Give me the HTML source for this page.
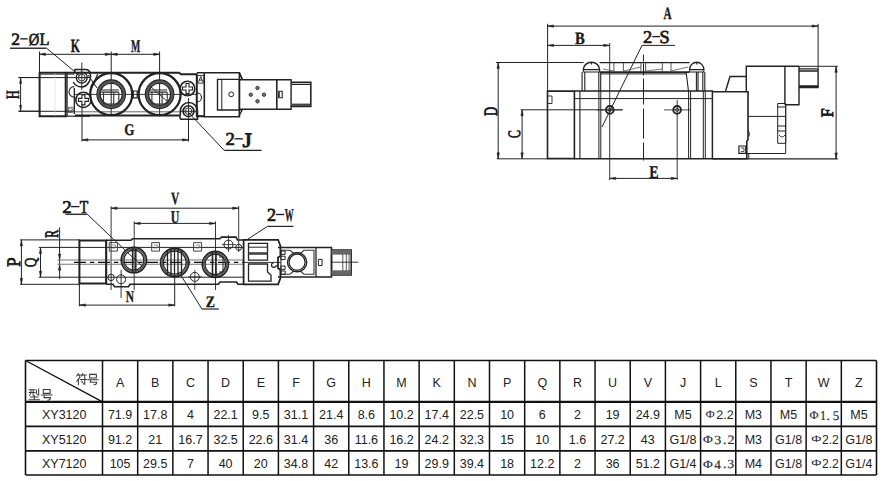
<!DOCTYPE html>
<html><head><meta charset="utf-8"><style>
html,body{margin:0;padding:0;background:#fff;width:882px;height:481px;overflow:hidden}
svg{display:block}
</style></head><body>
<svg width="882" height="481" viewBox="0 0 882 481">
<rect width="882" height="481" fill="#fff"/>

<g stroke="#111" fill="none">
<line x1="25.5" y1="360.5" x2="876.5" y2="360.5" stroke-width="1.6"/>
<line x1="25.5" y1="401.8" x2="876.5" y2="401.8" stroke-width="2.2"/>
<line x1="25.5" y1="426.3" x2="876.5" y2="426.3" stroke-width="1.8"/>
<line x1="25.5" y1="450.9" x2="876.5" y2="450.9" stroke-width="1.8"/>
<line x1="25.5" y1="475.0" x2="876.5" y2="475.0" stroke-width="1.6"/>
<line x1="25.5" y1="360.5" x2="25.5" y2="475.0" stroke-width="1.6"/>
<line x1="876.5" y1="360.5" x2="876.5" y2="475.0" stroke-width="1.6"/>
<line x1="102.5" y1="360.5" x2="102.5" y2="475.0" stroke-width="1.5"/>
<line x1="137.68" y1="360.5" x2="137.68" y2="475.0" stroke-width="1.5"/>
<line x1="172.86" y1="360.5" x2="172.86" y2="475.0" stroke-width="1.5"/>
<line x1="208.05" y1="360.5" x2="208.05" y2="475.0" stroke-width="1.5"/>
<line x1="243.23" y1="360.5" x2="243.23" y2="475.0" stroke-width="1.5"/>
<line x1="278.41" y1="360.5" x2="278.41" y2="475.0" stroke-width="1.5"/>
<line x1="313.59" y1="360.5" x2="313.59" y2="475.0" stroke-width="1.5"/>
<line x1="348.77" y1="360.5" x2="348.77" y2="475.0" stroke-width="1.5"/>
<line x1="383.95" y1="360.5" x2="383.95" y2="475.0" stroke-width="1.5"/>
<line x1="419.14" y1="360.5" x2="419.14" y2="475.0" stroke-width="1.5"/>
<line x1="454.32" y1="360.5" x2="454.32" y2="475.0" stroke-width="1.5"/>
<line x1="489.5" y1="360.5" x2="489.5" y2="475.0" stroke-width="1.5"/>
<line x1="524.68" y1="360.5" x2="524.68" y2="475.0" stroke-width="1.5"/>
<line x1="559.86" y1="360.5" x2="559.86" y2="475.0" stroke-width="1.5"/>
<line x1="595.05" y1="360.5" x2="595.05" y2="475.0" stroke-width="1.5"/>
<line x1="630.23" y1="360.5" x2="630.23" y2="475.0" stroke-width="1.5"/>
<line x1="665.41" y1="360.5" x2="665.41" y2="475.0" stroke-width="1.5"/>
<line x1="700.59" y1="360.5" x2="700.59" y2="475.0" stroke-width="1.5"/>
<line x1="735.77" y1="360.5" x2="735.77" y2="475.0" stroke-width="1.5"/>
<line x1="770.95" y1="360.5" x2="770.95" y2="475.0" stroke-width="1.5"/>
<line x1="806.14" y1="360.5" x2="806.14" y2="475.0" stroke-width="1.5"/>
<line x1="841.32" y1="360.5" x2="841.32" y2="475.0" stroke-width="1.5"/>
<line x1="25.5" y1="360.5" x2="102.5" y2="401.8" stroke-width="1.4"/>
</g>
<g font-family="Liberation Sans, sans-serif" font-size="12.5" fill="#222" text-anchor="middle">
<text x="120.09" y="386.5">A</text>
<text x="155.27" y="386.5">B</text>
<text x="190.45" y="386.5">C</text>
<text x="225.64" y="386.5">D</text>
<text x="260.82" y="386.5">E</text>
<text x="296" y="386.5">F</text>
<text x="331.18" y="386.5">G</text>
<text x="366.36" y="386.5">H</text>
<text x="401.55" y="386.5">M</text>
<text x="436.73" y="386.5">K</text>
<text x="471.91" y="386.5">N</text>
<text x="507.09" y="386.5">P</text>
<text x="542.27" y="386.5">Q</text>
<text x="577.45" y="386.5">R</text>
<text x="612.64" y="386.5">U</text>
<text x="647.82" y="386.5">V</text>
<text x="683" y="386.5">J</text>
<text x="718.18" y="386.5">L</text>
<text x="753.36" y="386.5">S</text>
<text x="788.55" y="386.5">T</text>
<text x="823.73" y="386.5">W</text>
<text x="858.91" y="386.5">Z</text>
<text x="64.2" y="419.2">XY3120</text>
<text x="120.09" y="419.2">71.9</text>
<text x="155.27" y="419.2">17.8</text>
<text x="190.45" y="419.2">4</text>
<text x="225.64" y="419.2">22.1</text>
<text x="260.82" y="419.2">9.5</text>
<text x="296" y="419.2">31.1</text>
<text x="331.18" y="419.2">21.4</text>
<text x="366.36" y="419.2">8.6</text>
<text x="401.55" y="419.2">10.2</text>
<text x="436.73" y="419.2">17.4</text>
<text x="471.91" y="419.2">22.5</text>
<text x="507.09" y="419.2">10</text>
<text x="542.27" y="419.2">6</text>
<text x="577.45" y="419.2">2</text>
<text x="612.64" y="419.2">19</text>
<text x="647.82" y="419.2">24.9</text>
<text x="683" y="419.2">M5</text>
<text x="753.36" y="419.2">M3</text>
<text x="788.55" y="419.2">M5</text>
<text x="858.91" y="419.2">M5</text>
<text x="64.2" y="443.8">XY5120</text>
<text x="120.09" y="443.8">91.2</text>
<text x="155.27" y="443.8">21</text>
<text x="190.45" y="443.8">16.7</text>
<text x="225.64" y="443.8">32.5</text>
<text x="260.82" y="443.8">22.6</text>
<text x="296" y="443.8">31.4</text>
<text x="331.18" y="443.8">36</text>
<text x="366.36" y="443.8">11.6</text>
<text x="401.55" y="443.8">16.2</text>
<text x="436.73" y="443.8">24.2</text>
<text x="471.91" y="443.8">32.3</text>
<text x="507.09" y="443.8">15</text>
<text x="542.27" y="443.8">10</text>
<text x="577.45" y="443.8">1.6</text>
<text x="612.64" y="443.8">27.2</text>
<text x="647.82" y="443.8">43</text>
<text x="683" y="443.8">G1/8</text>
<text x="753.36" y="443.8">M3</text>
<text x="788.55" y="443.8">G1/8</text>
<text x="858.91" y="443.8">G1/8</text>
<text x="64.2" y="468.4">XY7120</text>
<text x="120.09" y="468.4">105</text>
<text x="155.27" y="468.4">29.5</text>
<text x="190.45" y="468.4">7</text>
<text x="225.64" y="468.4">40</text>
<text x="260.82" y="468.4">20</text>
<text x="296" y="468.4">34.8</text>
<text x="331.18" y="468.4">42</text>
<text x="366.36" y="468.4">13.6</text>
<text x="401.55" y="468.4">19</text>
<text x="436.73" y="468.4">29.9</text>
<text x="471.91" y="468.4">39.4</text>
<text x="507.09" y="468.4">18</text>
<text x="542.27" y="468.4">12.2</text>
<text x="577.45" y="468.4">2</text>
<text x="612.64" y="468.4">36</text>
<text x="647.82" y="468.4">51.2</text>
<text x="683" y="468.4">G1/4</text>
<text x="753.36" y="468.4">M4</text>
<text x="788.55" y="468.4">G1/8</text>
<text x="858.91" y="468.4">G1/4</text>
</g>
<text x="0" y="0" transform="translate(702.89,443.30) scale(0.6712,0.5574)" font-family="Liberation Serif" font-weight="normal" font-size="20" fill="#2a2a2a" stroke="#2a2a2a" stroke-width="0.25" style="font-kerning:none" text-rendering="geometricPrecision">Φ</text>
<text x="0" y="0" transform="translate(714.13,443.88) scale(0.7020,0.6251)" font-family="Liberation Serif" font-weight="normal" font-size="20" fill="#2a2a2a" stroke="#2a2a2a" stroke-width="0.25" style="font-kerning:none" text-rendering="geometricPrecision">3</text>
<text x="0" y="0" transform="translate(723.11,443.81) scale(0.6770,0.6770)" font-family="Liberation Serif" font-weight="normal" font-size="20" fill="#2a2a2a" stroke="#2a2a2a" stroke-width="0.25" style="font-kerning:none" text-rendering="geometricPrecision">.</text>
<text x="0" y="0" transform="translate(727.38,444.00) scale(0.7109,0.6343)" font-family="Liberation Serif" font-weight="normal" font-size="20" fill="#2a2a2a" stroke="#2a2a2a" stroke-width="0.25" style="font-kerning:none" text-rendering="geometricPrecision">2</text>
<text x="0" y="0" transform="translate(702.89,467.90) scale(0.6712,0.5574)" font-family="Liberation Serif" font-weight="normal" font-size="20" fill="#2a2a2a" stroke="#2a2a2a" stroke-width="0.25" style="font-kerning:none" text-rendering="geometricPrecision">Φ</text>
<text x="0" y="0" transform="translate(714.34,468.60) scale(0.6669,0.6381)" font-family="Liberation Serif" font-weight="normal" font-size="20" fill="#2a2a2a" stroke="#2a2a2a" stroke-width="0.25" style="font-kerning:none" text-rendering="geometricPrecision">4</text>
<text x="0" y="0" transform="translate(723.11,468.41) scale(0.6770,0.6770)" font-family="Liberation Serif" font-weight="normal" font-size="20" fill="#2a2a2a" stroke="#2a2a2a" stroke-width="0.25" style="font-kerning:none" text-rendering="geometricPrecision">.</text>
<text x="0" y="0" transform="translate(727.34,468.48) scale(0.6899,0.6251)" font-family="Liberation Serif" font-weight="normal" font-size="20" fill="#2a2a2a" stroke="#2a2a2a" stroke-width="0.25" style="font-kerning:none" text-rendering="geometricPrecision">3</text>
<text x="0" y="0" transform="translate(809.53,418.50) scale(0.6190,0.5803)" font-family="Liberation Serif" font-weight="normal" font-size="20" fill="#2a2a2a" stroke="#2a2a2a" stroke-width="0.25" style="font-kerning:none" text-rendering="geometricPrecision">Φ</text>
<text x="0" y="0" transform="translate(819.93,419.80) scale(0.6107,0.6741)" font-family="Liberation Serif" font-weight="normal" font-size="20" fill="#2a2a2a" stroke="#2a2a2a" stroke-width="0.25" style="font-kerning:none" text-rendering="geometricPrecision">1</text>
<text x="0" y="0" transform="translate(826.61,419.61) scale(0.6770,0.6770)" font-family="Liberation Serif" font-weight="normal" font-size="20" fill="#2a2a2a" stroke="#2a2a2a" stroke-width="0.25" style="font-kerning:none" text-rendering="geometricPrecision">.</text>
<text x="0" y="0" transform="translate(832.85,419.67) scale(0.6454,0.6696)" font-family="Liberation Serif" font-weight="normal" font-size="20" fill="#2a2a2a" stroke="#2a2a2a" stroke-width="0.25" style="font-kerning:none" text-rendering="geometricPrecision">5</text>
<text x="0" y="0" transform="translate(705.20,417.64) scale(0.6140,0.5442)" font-family="Liberation Sans" font-weight="normal" font-size="20" fill="#2a2a2a" stroke="#2a2a2a" stroke-width="0.0" style="font-kerning:none" text-rendering="geometricPrecision">Φ</text>
<text x="0" y="0" transform="translate(716.17,418.80) scale(0.6281,0.6230)" font-family="Liberation Sans" font-weight="normal" font-size="20" fill="#2a2a2a" stroke="#2a2a2a" stroke-width="0.0" style="font-kerning:none" text-rendering="geometricPrecision">2.2</text>
<text x="0" y="0" transform="translate(811.04,441.85) scale(0.6651,0.4655)" font-family="Liberation Sans" font-weight="normal" font-size="20" fill="#2a2a2a" stroke="#2a2a2a" stroke-width="0.0" style="font-kerning:none" text-rendering="geometricPrecision">Φ</text>
<text x="0" y="0" transform="translate(821.89,443.60) scale(0.6087,0.6516)" font-family="Liberation Sans" font-weight="normal" font-size="20" fill="#2a2a2a" stroke="#2a2a2a" stroke-width="0.0" style="font-kerning:none" text-rendering="geometricPrecision">2.2</text>
<text x="0" y="0" transform="translate(811.04,466.45) scale(0.6651,0.4655)" font-family="Liberation Sans" font-weight="normal" font-size="20" fill="#2a2a2a" stroke="#2a2a2a" stroke-width="0.0" style="font-kerning:none" text-rendering="geometricPrecision">Φ</text>
<text x="0" y="0" transform="translate(821.89,468.20) scale(0.6087,0.6516)" font-family="Liberation Sans" font-weight="normal" font-size="20" fill="#2a2a2a" stroke="#2a2a2a" stroke-width="0.0" style="font-kerning:none" text-rendering="geometricPrecision">2.2</text>
<path transform="translate(75.8,373.6) scale(0.93)" d="M2.6,0 L1,2.6 M2,1.4 H5.6 M3.6,1.6 L4.2,3 M7.6,0 L6.4,2.6 M7.2,1.4 H11.2 M9,1.6 L9.6,3 M4.4,4 L1,8.2 M2.8,6.2 V12 M5,6.4 H11.6 M9.6,4.2 V11.4 L8.2,10.8 M6.3,8 L7.4,9.6" fill="none" stroke="#3a3a3a" stroke-width="1.129" stroke-linecap="square"/>
<path transform="translate(87.4,373.8) scale(0.93)" d="M2.4,0.6 H9.6 V4.6 H2.4 Z M0.4,6.4 H11.6 M3.6,6.6 L3.1,9.1 H10 Q10,11.6 7.2,11.8" fill="none" stroke="#3a3a3a" stroke-width="1.129" stroke-linecap="square"/>
<path transform="translate(28.6,388.8) scale(0.95)" d="M0.6,1 H6.6 M0.6,3.8 H6.6 M2.6,1 Q2.6,5 1.2,6.8 M4.8,1 V6.8 M8.2,1.4 V5.2 M10.6,0.2 V6.6 L9.6,6.2 M2,8.6 H10 M6,7 V11.6 M0.6,11.6 H11.4" fill="none" stroke="#3a3a3a" stroke-width="1.105" stroke-linecap="square"/>
<path transform="translate(41.0,389.0) scale(0.95)" d="M2.4,0.6 H9.6 V4.6 H2.4 Z M0.4,6.4 H11.6 M3.6,6.6 L3.1,9.1 H10 Q10,11.6 7.2,11.8" fill="none" stroke="#3a3a3a" stroke-width="1.105" stroke-linecap="square"/>
<line x1="39.5" y1="54.3" x2="159.6" y2="54.3" stroke="#222" stroke-width="1.0" />
<line x1="39.5" y1="51.5" x2="39.5" y2="73" stroke="#222" stroke-width="1.0" />
<line x1="111.2" y1="51.5" x2="111.2" y2="116" stroke="#222" stroke-width="1.0" />
<line x1="159.6" y1="51.5" x2="159.6" y2="116" stroke="#222" stroke-width="1.0" />
<path d="M39.5,54.3 l6,-1.2 l0,2.4 z" stroke="#222" stroke-width="0.5" fill="#222" />
<path d="M111.2,54.3 l-6,-1.2 l0,2.4 z" stroke="#222" stroke-width="0.5" fill="#222" />
<path d="M111.2,54.3 l6,-1.2 l0,2.4 z" stroke="#222" stroke-width="0.5" fill="#222" />
<path d="M159.6,54.3 l-6,-1.2 l0,2.4 z" stroke="#222" stroke-width="0.5" fill="#222" />
<line x1="18.5" y1="77.5" x2="39.5" y2="77.5" stroke="#222" stroke-width="1.0" />
<line x1="18.5" y1="111.2" x2="39.5" y2="111.2" stroke="#222" stroke-width="1.0" />
<line x1="20.6" y1="77.5" x2="20.6" y2="111.2" stroke="#222" stroke-width="1.0" />
<path d="M20.6,77.6 l-1.1,6 l2.2,0 z" stroke="#222" stroke-width="0.4" fill="#222" />
<path d="M20.6,111.3 l-1.1,-6 l2.2,0 z" stroke="#222" stroke-width="0.4" fill="#222" />
<line x1="82" y1="104" x2="82" y2="141.5" stroke="#222" stroke-width="1.0" />
<line x1="188.5" y1="119" x2="188.5" y2="141.5" stroke="#222" stroke-width="1.0" />
<line x1="82" y1="139.9" x2="188.5" y2="139.9" stroke="#222" stroke-width="1.0" />
<path d="M82,139.9 l6,-1.2 l0,2.4 z" stroke="#222" stroke-width="0.5" fill="#222" />
<path d="M188.5,139.9 l-6,-1.2 l0,2.4 z" stroke="#222" stroke-width="0.5" fill="#222" />
<line x1="10" y1="48.2" x2="46.6" y2="48.2" stroke="#333" stroke-width="1.5" />
<line x1="46.6" y1="48.2" x2="80" y2="76" stroke="#222" stroke-width="1.0" />
<line x1="189" y1="113" x2="224.2" y2="150.4" stroke="#222" stroke-width="1.0" />
<line x1="224.2" y1="150.4" x2="261.6" y2="150.4" stroke="#222" stroke-width="1.2" />
<path d="M39.6,72.8 H65.7 V116.2 H39.6 Z" stroke="#222" stroke-width="2.0" fill="none" />
<line x1="39.6" y1="74.3" x2="74.5" y2="74.3" stroke="#444" stroke-width="0.9" />
<line x1="18.5" y1="77.6" x2="90" y2="77.6" stroke="#222" stroke-width="1.0" />
<line x1="18.5" y1="111.3" x2="75" y2="111.3" stroke="#222" stroke-width="1.0" />
<line x1="55" y1="73" x2="55" y2="116" stroke="#ccc" stroke-width="0.5" />
<line x1="67.2" y1="72.8" x2="67.2" y2="116.2" stroke="#222" stroke-width="1.0" />
<path d="M74.3,86.6 A5.3,5.3 0 0 0 74.3,97.2" stroke="#222" stroke-width="1.1" fill="none" />
<line x1="74.3" y1="87.9" x2="74.3" y2="114.1" stroke="#222" stroke-width="1.3" />
<path d="M68,107.3 h5.1 v5.1 h-5.1 z" stroke="#555" stroke-width="0.8" fill="none" />
<path d="M65.7,72.8 H179 L181,74.3 H196.8 V116.2 H204.3" stroke="#222" stroke-width="2.0" fill="none" />
<path d="M74.9,115.4 H180" stroke="#222" stroke-width="2.0" fill="none" />
<line x1="65.7" y1="116.2" x2="90" y2="116.2" stroke="#222" stroke-width="1.2" />
<line x1="75" y1="111.8" x2="196.8" y2="111.8" stroke="#555" stroke-width="0.9" />
<line x1="75" y1="94.4" x2="197" y2="94.4" stroke="#222" stroke-width="0.9" />
<line x1="90.9" y1="90.1" x2="97.7" y2="74.1" stroke="#222" stroke-width="1.2" />
<path d="M74.9,72 V69.6 H86 Q89,69.6 90,72.8 Q91.5,78 89,82 Q86,87 81.8,87 Q76,87 73.2,82" stroke="#222" stroke-width="1.5" fill="none" />
<circle cx="81.7" cy="77.6" r="5.5" stroke="#222" stroke-width="1.3" fill="none" />
<circle cx="81.7" cy="77.6" r="3.4" stroke="#222" stroke-width="0.9" fill="none" />
<line x1="76" y1="77.6" x2="88" y2="77.6" stroke="#222" stroke-width="0.8" />
<line x1="81.8" y1="62.5" x2="81.8" y2="90" stroke="#222" stroke-width="0.9" />
<circle cx="83.4" cy="99.9" r="7.6" stroke="#222" stroke-width="1.6" fill="none" />
<path d="M81.9,94.9 h3 v3.5 h3.5 v3 h-3.5 v3.5 h-3 v-3.5 h-3.5 v-3 h3.5 z" stroke="#222" stroke-width="1.1" fill="none" />
<circle cx="187.5" cy="88.5" r="7.3" stroke="#222" stroke-width="1.6" fill="none" />
<path d="M186,83.5 h3 v3.5 h3.5 v3 h-3.5 v3.5 h-3 v-3.5 h-3.5 v-3 h3.5 z" stroke="#222" stroke-width="1.1" fill="none" />
<path d="M180,115.4 V117.5 Q180,119.3 182,119.3 H197.5 V111.2 A8.6,8.6 0 0 0 180.3,111.2 V115.4" stroke="#222" stroke-width="1.5" fill="none" />
<circle cx="188.5" cy="111.2" r="5.4" stroke="#222" stroke-width="1.6" fill="none" />
<circle cx="188.5" cy="111.2" r="3.3" stroke="#222" stroke-width="0.9" fill="none" />
<line x1="188.5" y1="98" x2="188.5" y2="125" stroke="#222" stroke-width="0.9" />
<line x1="181" y1="111.2" x2="196" y2="111.2" stroke="#222" stroke-width="0.8" />
<path d="M197,93 A4.5,4.5 0 0 1 197,102" stroke="#222" stroke-width="1.1" fill="none" />
<path d="M196.8,72.8 H204.3 M196.8,116.2 H204.3" stroke="#222" stroke-width="1.6" fill="none" />
<path d="M197.5,75.6 h6.5 v7.5 h-6.5 z" stroke="#333" stroke-width="1.0" fill="none" />
<path d="M198.6,82 L200.75,76.6 L202.9,82 M199.4,80.1 h2.7" stroke="#222" stroke-width="0.9" fill="none" />
<path d="M68.6,108.2 h2.2 q1.6,0 1.6,1.1 q0,1.1 -1.6,1.1 h-2.2 M70.8,110.4 q1.8,0 1.8,1 q0,1 -1.8,1 h-2.2 V108.2" stroke="#444" stroke-width="0.6" fill="none" />
<circle cx="111.2" cy="94.2" r="21.0" stroke="#222" stroke-width="2.2" fill="none" />
<circle cx="111.2" cy="94.2" r="12.65" stroke="#555" stroke-width="3.0" fill="none" />
<circle cx="111.2" cy="94.2" r="14.3" stroke="#222" stroke-width="1.1" fill="none" />
<circle cx="111.2" cy="94.2" r="11.0" stroke="#222" stroke-width="1.1" fill="none" />
<path d="M101.4,90 h17.4 M101.4,92.2 h17.4" stroke="#222" stroke-width="1.2" fill="none" />
<path d="M103.5,92.2 V104 M113.7,92.2 V104 M103.5,104 H118.8 V92.2" stroke="#333" stroke-width="1.1" fill="none" />
<circle cx="159.6" cy="94.2" r="21.0" stroke="#222" stroke-width="2.2" fill="none" />
<circle cx="159.6" cy="94.2" r="12.65" stroke="#555" stroke-width="3.0" fill="none" />
<circle cx="159.6" cy="94.2" r="14.3" stroke="#222" stroke-width="1.1" fill="none" />
<circle cx="159.6" cy="94.2" r="11.0" stroke="#222" stroke-width="1.1" fill="none" />
<path d="M149.79999999999998,90 h17.4 M149.79999999999998,92.2 h17.4" stroke="#222" stroke-width="1.2" fill="none" />
<path d="M151.9,92.2 V104 M162.1,92.2 V104 M151.9,104 H167.2 V92.2" stroke="#333" stroke-width="1.1" fill="none" />
<line x1="88" y1="75" x2="97" y2="88" stroke="#222" stroke-width="1.0" />
<line x1="150" y1="86" x2="169" y2="103" stroke="#222" stroke-width="0.9" />
<path d="M133.3,91 h3.9 v6.8 h-3.9 z" stroke="#222" stroke-width="1.2" fill="none" />
<path d="M204.3,72.8 H239.4 L242.5,79.7" stroke="#222" stroke-width="1.6" fill="none" />
<path d="M239.4,72.8 V116.8 H204.3 V72.8" stroke="#222" stroke-width="1.6" fill="none" />
<path d="M217.5,79.4 H239.4 V110 H217.5 Z" stroke="#222" stroke-width="1.4" fill="none" />
<line x1="221.8" y1="79.4" x2="221.8" y2="110" stroke="#222" stroke-width="1.0" />
<circle cx="231.2" cy="94.3" r="2.4" stroke="#222" stroke-width="1.0" fill="none" />
<path d="M239.4,109.3 L242,110.5 L238.5,116.8" stroke="#222" stroke-width="1.2" fill="none" />
<path d="M238.7,79.7 H276.8 V109.3 H238.7" stroke="#222" stroke-width="1.6" fill="none" />
<circle cx="257.5" cy="88" r="1.7" stroke="#333" stroke-width="1.0" fill="#777" />
<circle cx="250.8" cy="94.7" r="1.7" stroke="#333" stroke-width="1.0" fill="#777" />
<circle cx="264" cy="94.7" r="1.7" stroke="#333" stroke-width="1.0" fill="#777" />
<circle cx="257.5" cy="101.3" r="1.7" stroke="#333" stroke-width="1.0" fill="#777" />
<path d="M276.8,79.7 H291.1 V109.3 H276.8" stroke="#222" stroke-width="1.4" fill="none" />
<path d="M278.6,91.3 h3.6 v6.5 h-3.6 z" stroke="#222" stroke-width="1.1" fill="none" />
<line x1="279.4" y1="91.5" x2="279.4" y2="97.6" stroke="#555" stroke-width="1.2" />
<path d="M291.1,82.4 H310.8 V106.4 H291.1" stroke="#222" stroke-width="1.6" fill="none" />
<line x1="291.5" y1="84.5" x2="310.5" y2="84.5" stroke="#222" stroke-width="1.0" />
<rect x="291.5" y="103.6" width="19" height="2.2" fill="#444"/>
<text x="0" y="0" transform="translate(11.23,44.70) scale(0.8731,0.8684)" font-family="Liberation Serif" font-weight="normal" font-size="20" fill="#1a1a1a" stroke="#1a1a1a" stroke-width="0.8" style="font-kerning:none" text-rendering="geometricPrecision">2</text>
<rect x="20.20" y="38.20" width="7.50" height="1.3" fill="#1a1a1a"/>
<text x="0" y="0" transform="translate(28.80,44.55) scale(0.7264,0.8356)" font-family="Liberation Serif" font-weight="normal" font-size="20" fill="#1a1a1a" stroke="#1a1a1a" stroke-width="0.8" style="font-kerning:none" text-rendering="geometricPrecision">Ø</text>
<text x="0" y="0" transform="translate(39.43,44.70) scale(0.8142,0.8782)" font-family="Liberation Serif" font-weight="normal" font-size="20" fill="#1a1a1a" stroke="#1a1a1a" stroke-width="0.8" style="font-kerning:none" text-rendering="geometricPrecision">L</text>
<text x="0" y="0" transform="translate(70.80,52.40) scale(0.5844,0.9316)" font-family="Liberation Serif" font-weight="bold" font-size="20" fill="#1a1a1a" stroke="#1a1a1a" stroke-width="0.4" style="font-kerning:none" text-rendering="geometricPrecision">K</text>
<text x="0" y="0" transform="translate(130.93,52.40) scale(0.4900,0.9011)" font-family="Liberation Serif" font-weight="bold" font-size="20" fill="#1a1a1a" stroke="#1a1a1a" stroke-width="0.4" style="font-kerning:none" text-rendering="geometricPrecision">M</text>
<text x="0" y="0" transform="translate(124.36,134.84) scale(0.6556,0.8186)" font-family="Liberation Serif" font-weight="bold" font-size="20" fill="#1a1a1a" stroke="#1a1a1a" stroke-width="0.4" style="font-kerning:none" text-rendering="geometricPrecision">G</text>
<text x="0" y="0" transform="translate(225.58,144.90) scale(0.9354,0.9137)" font-family="Liberation Serif" font-weight="normal" font-size="20" fill="#1a1a1a" stroke="#1a1a1a" stroke-width="0.8" style="font-kerning:none" text-rendering="geometricPrecision">2</text>
<rect x="234.60" y="138.15" width="8.30" height="1.3" fill="#1a1a1a"/>
<text x="0" y="0" transform="translate(242.59,146.50) scale(1.2098,1.0308)" font-family="Liberation Serif" font-weight="normal" font-size="20" fill="#1a1a1a" stroke="#1a1a1a" stroke-width="0.8" style="font-kerning:none" text-rendering="geometricPrecision">J</text>
<text x="0" y="0" transform="translate(18.70,98.89) rotate(-90) scale(0.5510,0.9545)" font-family="Liberation Serif" font-weight="bold" font-size="20" fill="#1a1a1a" stroke="#1a1a1a" stroke-width="0.4" style="font-kerning:none" text-rendering="geometricPrecision">H</text>
<line x1="547.6" y1="23.8" x2="547.6" y2="91.5" stroke="#222" stroke-width="1.0" />
<line x1="547.6" y1="26.1" x2="818.1" y2="26.1" stroke="#222" stroke-width="1.0" />
<path d="M547.6,26.1 l6,-1.2 l0,2.4 z" stroke="#222" stroke-width="0.5" fill="#222" />
<path d="M818.1,26.1 l-6,-1.2 l0,2.4 z" stroke="#222" stroke-width="0.5" fill="#222" />
<line x1="818.1" y1="23.8" x2="818.1" y2="68" stroke="#222" stroke-width="1.0" />
<line x1="547.6" y1="45.4" x2="609.7" y2="45.4" stroke="#222" stroke-width="1.0" />
<path d="M547.6,45.4 l6,-1.2 l0,2.4 z" stroke="#222" stroke-width="0.5" fill="#222" />
<path d="M609.7,45.4 l-6,-1.2 l0,2.4 z" stroke="#222" stroke-width="0.5" fill="#222" />
<line x1="609.7" y1="43" x2="609.7" y2="180" stroke="#222" stroke-width="0.9" />
<line x1="677.2" y1="100" x2="677.2" y2="180" stroke="#222" stroke-width="0.9" />
<line x1="609.7" y1="178.4" x2="677.2" y2="178.4" stroke="#222" stroke-width="1.0" />
<path d="M609.7,178.4 l6,-1.2 l0,2.4 z" stroke="#222" stroke-width="0.5" fill="#222" />
<path d="M677.2,178.4 l-6,-1.2 l0,2.4 z" stroke="#222" stroke-width="0.5" fill="#222" />
<line x1="642" y1="45.4" x2="675" y2="45.4" stroke="#222" stroke-width="1.0" />
<line x1="642" y1="45.4" x2="602" y2="127" stroke="#222" stroke-width="1.0" />
<line x1="495.9" y1="62.5" x2="583.6" y2="62.5" stroke="#222" stroke-width="1.0" />
<line x1="496.8" y1="158.8" x2="547.6" y2="158.8" stroke="#222" stroke-width="1.0" />
<line x1="498.2" y1="62.5" x2="498.2" y2="158.8" stroke="#222" stroke-width="1.0" />
<path d="M498.2,62.5 l-1.2,6 l2.4,0 z" stroke="#222" stroke-width="0.5" fill="#222" />
<path d="M498.2,158.8 l-1.2,-6 l2.4,0 z" stroke="#222" stroke-width="0.5" fill="#222" />
<line x1="520.7" y1="109.8" x2="622.7" y2="109.8" stroke="#222" stroke-width="1.0" />
<line x1="522.1" y1="109.8" x2="522.1" y2="158.8" stroke="#222" stroke-width="1.0" />
<path d="M522.1,109.8 l-1.2,6 l2.4,0 z" stroke="#222" stroke-width="0.5" fill="#222" />
<path d="M522.1,158.8 l-1.2,-6 l2.4,0 z" stroke="#222" stroke-width="0.5" fill="#222" />
<line x1="799" y1="66.3" x2="837.9" y2="66.3" stroke="#222" stroke-width="1.0" />
<line x1="746.8" y1="158.9" x2="837.8" y2="158.9" stroke="#222" stroke-width="1.3" />
<line x1="836.1" y1="66.3" x2="836.1" y2="158.9" stroke="#222" stroke-width="1.0" />
<path d="M836.1,66.3 l-1.2,6 l2.4,0 z" stroke="#222" stroke-width="0.5" fill="#222" />
<path d="M836.1,158.9 l-1.2,-6 l2.4,0 z" stroke="#222" stroke-width="0.5" fill="#222" />
<path d="M547.5,91.1 H574.4 V158.6 H547.5 Z" stroke="#222" stroke-width="1.6" fill="none" />
<path d="M548,96 h4 v7.5 h-4" stroke="#222" stroke-width="0.9" fill="none" />
<path d="M574.4,91.1 H712.4 V158.8 H574.4" stroke="#222" stroke-width="1.5" fill="none" />
<line x1="574.4" y1="98.6" x2="712.4" y2="98.6" stroke="#222" stroke-width="1.0" />
<line x1="579.9" y1="91.1" x2="579.9" y2="158.8" stroke="#222" stroke-width="1.1" />
<line x1="598.9" y1="91.1" x2="598.9" y2="158.8" stroke="#222" stroke-width="1.0" />
<line x1="600.8" y1="91.1" x2="600.8" y2="158.8" stroke="#222" stroke-width="1.0" />
<line x1="688.6" y1="91.1" x2="688.6" y2="158.8" stroke="#222" stroke-width="1.0" />
<line x1="690.6" y1="91.1" x2="690.6" y2="158.8" stroke="#222" stroke-width="1.0" />
<circle cx="609.8" cy="109.9" r="3.8" stroke="#222" stroke-width="2.0" fill="none" />
<circle cx="609.8" cy="109.9" r="1.6" stroke="#222" stroke-width="0.8" fill="none" />
<line x1="596.8" y1="109.9" x2="622.8" y2="109.9" stroke="#333" stroke-width="0.9" />
<circle cx="677.1" cy="109.9" r="3.8" stroke="#222" stroke-width="2.0" fill="none" />
<circle cx="677.1" cy="109.9" r="1.6" stroke="#222" stroke-width="0.8" fill="none" />
<line x1="664.1" y1="109.9" x2="690.1" y2="109.9" stroke="#333" stroke-width="0.9" />
<line x1="643.5" y1="54.5" x2="643.5" y2="166" stroke="#222" stroke-width="1.0" stroke-dasharray="7,2,12,3,26,4,30,4,18"/>
<path d="M583.3,69.6 A8.150000000000034,7.4 0 0 1 599.6,69.6 Z" stroke="#222" stroke-width="1.4" fill="none" />
<line x1="591.45" y1="62.3" x2="591.45" y2="64.5" stroke="#222" stroke-width="1.2" />
<path d="M583.3,69.6 V72 H599.6 V69.6" stroke="#222" stroke-width="1.0" fill="none" />
<path d="M689.6,69.6 A7.099999999999966,7.4 0 0 1 703.8,69.6 Z" stroke="#222" stroke-width="1.4" fill="none" />
<line x1="696.7" y1="62.3" x2="696.7" y2="64.5" stroke="#222" stroke-width="1.2" />
<path d="M689.6,69.6 V72 H703.8 V69.6" stroke="#222" stroke-width="1.0" fill="none" />
<line x1="599.6" y1="62.7" x2="689.6" y2="62.7" stroke="#222" stroke-width="1.2" />
<line x1="599.6" y1="72.1" x2="689.6" y2="72.1" stroke="#222" stroke-width="1.8" />
<line x1="600.7" y1="73.9" x2="686.1" y2="73.9" stroke="#222" stroke-width="1.0" />
<line x1="613.9" y1="63" x2="613.9" y2="71.5" stroke="#444" stroke-width="0.9" />
<line x1="623.4" y1="63" x2="623.4" y2="71.5" stroke="#444" stroke-width="0.9" />
<line x1="640.9" y1="63" x2="640.9" y2="71.5" stroke="#444" stroke-width="0.9" />
<line x1="645.6" y1="63" x2="645.6" y2="71.5" stroke="#444" stroke-width="0.9" />
<line x1="662.3" y1="63" x2="662.3" y2="71.5" stroke="#444" stroke-width="0.9" />
<line x1="671" y1="63" x2="671" y2="71.5" stroke="#444" stroke-width="0.9" />
<path d="M614,71 L603,69 M623.4,71 L640.9,67 M645.6,71 L662.3,69 M671,71 L688,67" stroke="#555" stroke-width="0.8" fill="none" />
<path d="M582.1,72 V91.2 M584.8,72 V91.2 M598.8,72 V91.2 M600.7,72 V91.2" stroke="#222" stroke-width="1.1" fill="none" />
<path d="M686.1,72 L688.5,91.2 M696.4,72 V91.2 M698,72 V91.2 M702.8,72 V91.2 M704.8,72 V91.2" stroke="#222" stroke-width="1.1" fill="none" />
<path d="M712.4,91.7 H748 V140 L746.8,141 V158.9 H712.4" stroke="#222" stroke-width="1.6" fill="none" />
<path d="M748,131 a1.3,3 0 0 1 0,6" stroke="#222" stroke-width="1.0" fill="none" />
<line x1="703.3" y1="91.1" x2="703.3" y2="158.8" stroke="#222" stroke-width="1.0" />
<line x1="705.3" y1="91.1" x2="705.3" y2="158.8" stroke="#222" stroke-width="1.0" />
<path d="M725.6,91 L730,76.5 H746.3" stroke="#222" stroke-width="1.4" fill="none" />
<path d="M746.3,91.7 V66.3 H799 M784.9,66.3 V104.8 M785.7,104.8 H799 V66.3" stroke="#222" stroke-width="1.4" fill="none" />
<path d="M799,68.9 H818.1 V87.5 H799 M799,71 H818 M799,86 H818" stroke="#222" stroke-width="1.4" fill="none" />
<line x1="748" y1="116.4" x2="785.7" y2="116.4" stroke="#222" stroke-width="1.0" />
<path d="M785.7,104.8 V153.5 H748" stroke="#222" stroke-width="1.0" fill="none" />
<path d="M777.7,103.5 H785.7 V143.3 H777.7 Z" stroke="#222" stroke-width="1.0" fill="none" />
<line x1="777.7" y1="107" x2="785.7" y2="107" stroke="#222" stroke-width="1.0" />
<line x1="777.7" y1="126" x2="785.7" y2="126" stroke="#222" stroke-width="1.0" />
<line x1="777.7" y1="131" x2="785.7" y2="131" stroke="#222" stroke-width="1.0" />
<path d="M779,135 q3,4 6,0" stroke="#222" stroke-width="0.9" fill="none" />
<path d="M738.9,146 H745.8 V153.4 H738.9 Z" stroke="#222" stroke-width="1.2" fill="none" />
<path d="M740.8,148 h3.2 v3.4 h-3.2" stroke="#222" stroke-width="0.8" fill="none" />
<path d="M745.8,153.4 h3 v5.5" stroke="#222" stroke-width="1.0" fill="none" />
<text x="0" y="0" transform="translate(663.59,19.30) scale(0.5602,0.8634)" font-family="Liberation Serif" font-weight="bold" font-size="20" fill="#1a1a1a" stroke="#1a1a1a" stroke-width="0.4" style="font-kerning:none" text-rendering="geometricPrecision">A</text>
<text x="0" y="0" transform="translate(574.96,44.15) scale(0.7309,0.8590)" font-family="Liberation Serif" font-weight="bold" font-size="20" fill="#1a1a1a" stroke="#1a1a1a" stroke-width="0.4" style="font-kerning:none" text-rendering="geometricPrecision">B</text>
<text x="0" y="0" transform="translate(643.09,42.70) scale(0.9230,0.8986)" font-family="Liberation Serif" font-weight="normal" font-size="20" fill="#1a1a1a" stroke="#1a1a1a" stroke-width="0.8" style="font-kerning:none" text-rendering="geometricPrecision">2</text>
<rect x="652.20" y="35.95" width="7.80" height="1.3" fill="#1a1a1a"/>
<text x="0" y="0" transform="translate(659.38,42.72) scale(0.9128,0.9153)" font-family="Liberation Serif" font-weight="normal" font-size="20" fill="#1a1a1a" stroke="#1a1a1a" stroke-width="0.8" style="font-kerning:none" text-rendering="geometricPrecision">S</text>
<text x="0" y="0" transform="translate(649.36,178.00) scale(0.7016,0.9011)" font-family="Liberation Serif" font-weight="bold" font-size="20" fill="#1a1a1a" stroke="#1a1a1a" stroke-width="0.4" style="font-kerning:none" text-rendering="geometricPrecision">E</text>
<text x="0" y="0" transform="translate(496.56,115.65) rotate(-90) scale(0.6123,0.9441)" font-family="Liberation Serif" font-weight="normal" font-size="20" fill="#1a1a1a" stroke="#1a1a1a" stroke-width="1.0" style="font-kerning:none" text-rendering="geometricPrecision">D</text>
<text x="0" y="0" transform="translate(519.83,138.08) rotate(-90) scale(0.5869,0.8707)" font-family="Liberation Serif" font-weight="normal" font-size="20" fill="#1a1a1a" stroke="#1a1a1a" stroke-width="0.9" style="font-kerning:none" text-rendering="geometricPrecision">C</text>
<text x="0" y="0" transform="translate(833.40,117.26) rotate(-90) scale(0.8041,0.8705)" font-family="Liberation Serif" font-weight="normal" font-size="20" fill="#1a1a1a" stroke="#1a1a1a" stroke-width="1.0" style="font-kerning:none" text-rendering="geometricPrecision">F</text>
<line x1="111.1" y1="208.2" x2="238.7" y2="208.2" stroke="#222" stroke-width="1.0" />
<path d="M111.1,208.2 l6,-1.2 l0,2.4 z" stroke="#222" stroke-width="0.5" fill="#222" />
<path d="M238.7,208.2 l-6,-1.2 l0,2.4 z" stroke="#222" stroke-width="0.5" fill="#222" />
<line x1="111.1" y1="206.2" x2="111.1" y2="290" stroke="#222" stroke-width="0.9" />
<line x1="238.7" y1="206.1" x2="238.7" y2="252" stroke="#222" stroke-width="0.9" />
<line x1="134.2" y1="223.4" x2="215.5" y2="223.4" stroke="#222" stroke-width="1.0" />
<path d="M134.2,223.4 l6,-1.2 l0,2.4 z" stroke="#222" stroke-width="0.5" fill="#222" />
<path d="M215.5,223.4 l-6,-1.2 l0,2.4 z" stroke="#222" stroke-width="0.5" fill="#222" />
<line x1="134.2" y1="221.2" x2="134.2" y2="290" stroke="#222" stroke-width="0.9" />
<line x1="215.5" y1="221.4" x2="215.5" y2="290" stroke="#222" stroke-width="0.9" />
<line x1="20" y1="239.9" x2="80" y2="239.9" stroke="#222" stroke-width="1.0" />
<line x1="20" y1="284.3" x2="80" y2="284.3" stroke="#222" stroke-width="1.0" />
<line x1="21.4" y1="239.9" x2="21.4" y2="284.3" stroke="#222" stroke-width="1.0" />
<path d="M21.4,239.9 l-1.2,6 l2.4,0 z" stroke="#222" stroke-width="0.5" fill="#222" />
<path d="M21.4,284.3 l-1.2,-6 l2.4,0 z" stroke="#222" stroke-width="0.5" fill="#222" />
<line x1="38.7" y1="247.4" x2="243.5" y2="247.4" stroke="#222" stroke-width="1.0" />
<line x1="38.7" y1="277.2" x2="243.5" y2="277.2" stroke="#222" stroke-width="1.0" />
<line x1="40.5" y1="247.4" x2="40.5" y2="277.2" stroke="#222" stroke-width="1.0" />
<path d="M40.5,247.4 l-1.2,6 l2.4,0 z" stroke="#222" stroke-width="0.5" fill="#222" />
<path d="M40.5,277.2 l-1.2,-6 l2.4,0 z" stroke="#222" stroke-width="0.5" fill="#222" />
<line x1="59.6" y1="227.4" x2="59.6" y2="279" stroke="#222" stroke-width="1.0" />
<path d="M59.6,260 l-1.2,-6 l2.4,0 z" stroke="#222" stroke-width="0.5" fill="#222" />
<path d="M59.6,264.3 l-1.2,6 l2.4,0 z" stroke="#222" stroke-width="0.5" fill="#222" />
<line x1="57.4" y1="260" x2="243.5" y2="260" stroke="#777" stroke-width="1.2" />
<line x1="57.4" y1="264.3" x2="243.5" y2="264.3" stroke="#777" stroke-width="1.1" />
<line x1="74" y1="262.3" x2="243.5" y2="262.3" stroke="#111" stroke-width="1.2" stroke-dasharray="12,4,4.4,3.6"/>
<line x1="79.4" y1="284" x2="79.4" y2="306.3" stroke="#222" stroke-width="1.0" />
<line x1="174.7" y1="276" x2="174.7" y2="306.3" stroke="#222" stroke-width="1.0" />
<line x1="79.5" y1="305.1" x2="174.7" y2="305.1" stroke="#222" stroke-width="1.0" />
<path d="M79.5,305.1 l6,-1.2 l0,2.4 z" stroke="#222" stroke-width="0.5" fill="#222" />
<path d="M174.7,305.1 l-6,-1.2 l0,2.4 z" stroke="#222" stroke-width="0.5" fill="#222" />
<line x1="121.1" y1="270" x2="121.1" y2="298" stroke="#222" stroke-width="0.9" />
<line x1="65.5" y1="214.3" x2="87.3" y2="214.3" stroke="#333" stroke-width="1.5" />
<line x1="87.3" y1="214.3" x2="143.4" y2="267.5" stroke="#222" stroke-width="1.0" />
<line x1="267.4" y1="226.4" x2="293.4" y2="226.4" stroke="#222" stroke-width="1.2" />
<line x1="267.4" y1="226.4" x2="245.6" y2="240.6" stroke="#222" stroke-width="1.0" />
<line x1="180.4" y1="274.5" x2="201.9" y2="309" stroke="#222" stroke-width="1.0" />
<line x1="201.9" y1="309" x2="218.9" y2="309" stroke="#222" stroke-width="1.2" />
<path d="M79.4,240.6 H106.2 V283.6 H79.4 Z" stroke="#222" stroke-width="2.0" fill="none" />
<path d="M106.2,240.3 H131 L132.5,238.8 H219.8 L221.5,237.1 H236 L237.5,240 H243.8" stroke="#222" stroke-width="1.6" fill="none" />
<path d="M106.2,284.3 H113 L114.5,286.7 H128.5 L130,284.3 H218.4 L220,282 H236.5 L238,284.3 H243.8" stroke="#222" stroke-width="1.6" fill="none" />
<line x1="106.2" y1="240.3" x2="106.2" y2="284.3" stroke="#222" stroke-width="1.4" />
<path d="M109.3,242.6 H117.4 V251.1 H109.3 Z" stroke="#444" stroke-width="1.0" fill="none" />
<path d="M111.3,245 h4 v3 h-4" stroke="#666" stroke-width="0.7" fill="none" />
<path d="M151.7,242.6 H159.5 V251.1 H151.7 Z" stroke="#444" stroke-width="1.0" fill="none" />
<path d="M153.7,245 h4 v3 h-4" stroke="#666" stroke-width="0.7" fill="none" />
<path d="M193.6,242.6 H201.6 V251.1 H193.6 Z" stroke="#444" stroke-width="1.0" fill="none" />
<path d="M195.6,245 h4 v3 h-4" stroke="#666" stroke-width="0.7" fill="none" />
<circle cx="111.1" cy="277.4" r="3.2" stroke="#222" stroke-width="1.0" fill="none" />
<circle cx="121.1" cy="279.3" r="4.5" stroke="#222" stroke-width="1.0" fill="none" />
<circle cx="194.8" cy="276.9" r="4.5" stroke="#222" stroke-width="1.0" fill="none" />
<line x1="194.8" y1="270" x2="194.8" y2="290" stroke="#222" stroke-width="0.8" />
<line x1="188" y1="276.9" x2="202" y2="276.9" stroke="#222" stroke-width="0.8" />
<circle cx="228.5" cy="244.6" r="4.5" stroke="#222" stroke-width="1.0" fill="none" />
<line x1="228.5" y1="235" x2="228.5" y2="252" stroke="#222" stroke-width="0.8" />
<line x1="222" y1="244.6" x2="236" y2="244.6" stroke="#222" stroke-width="0.8" />
<circle cx="238.7" cy="247.3" r="3.0" stroke="#222" stroke-width="1.0" fill="none" />
<circle cx="133.9" cy="260.1" r="12.7" stroke="#222" stroke-width="1.6" fill="none" />
<circle cx="133.9" cy="260.1" r="11.3" stroke="#555" stroke-width="1.4" fill="none" />
<circle cx="133.9" cy="260.1" r="9.9" stroke="#222" stroke-width="1.2" fill="none" />
<circle cx="174.7" cy="262.6" r="14.2" stroke="#222" stroke-width="1.6" fill="none" />
<circle cx="174.7" cy="262.6" r="12.8" stroke="#555" stroke-width="1.4" fill="none" />
<circle cx="174.7" cy="262.6" r="11.4" stroke="#222" stroke-width="1.2" fill="none" />
<circle cx="215.3" cy="264.4" r="13.0" stroke="#222" stroke-width="1.6" fill="none" />
<circle cx="215.3" cy="264.4" r="11.600000000000001" stroke="#555" stroke-width="1.4" fill="none" />
<circle cx="215.3" cy="264.4" r="10.200000000000001" stroke="#222" stroke-width="1.2" fill="none" />
<path d="M132.6,248 V272 M135.8,248.5 V271.5" stroke="#222" stroke-width="1.5" fill="none" />
<path d="M167.5,250 V275 M171,249 V276 M174.5,248.5 V276.5 M178,249 V276 M181.5,250 V275" stroke="#222" stroke-width="1.3" fill="none" />
<path d="M212.5,252 V277 M216,252 V277" stroke="#222" stroke-width="1.6" fill="none" />
<path d="M219,257 H223 V272 H219" stroke="#222" stroke-width="1.0" fill="none" />
<path d="M243.6,239.8 H278.1 L280.4,246 V256 L278,257.5 V268 L280.4,270 V278.4 L278.1,284.3 H243.6 Z" stroke="#222" stroke-width="1.8" fill="none" />
<path d="M248.5,243.3 H267.5 V260.1 H248.5 Z" stroke="#222" stroke-width="1.3" fill="none" />
<path d="M248.5,264 H267.5 V272 L271,275 V281.2 H248.5 Z" stroke="#222" stroke-width="1.3" fill="none" />
<rect x="248.5" y="252.2" width="19" height="2.6" fill="#444"/>
<line x1="248.5" y1="247.2" x2="267.5" y2="247.2" stroke="#222" stroke-width="1.0" />
<line x1="243.6" y1="262.4" x2="281" y2="262.4" stroke="#222" stroke-width="0.9" />
<path d="M276.3,265 A2.4,2.4 0 1 1 273.9,262.6" stroke="#222" stroke-width="1.2" fill="none" />
<path d="M278,247.5 H331.5 V277 H278" stroke="#222" stroke-width="1.5" fill="none" />
<path d="M280.9,250.3 H290 L293,253 H301 L304,250.3 H314 V274.2 H304 L301,271.5 H293 L290,274.2 H280.9 Z" stroke="#333" stroke-width="1.1" fill="none" />
<circle cx="297.1" cy="262.2" r="9.6" stroke="#222" stroke-width="1.4" fill="none" />
<circle cx="297.1" cy="262.2" r="8.0" stroke="#222" stroke-width="1.2" fill="none" />
<path d="M280.9,251 h4.2 v3.4 h-4.2 z" stroke="#222" stroke-width="1.0" fill="none" />
<path d="M280.9,256.2 h4.2 v3.4 h-4.2 z" stroke="#222" stroke-width="1.0" fill="none" />
<path d="M280.9,266 h4.2 v3.4 h-4.2 z" stroke="#222" stroke-width="1.0" fill="none" />
<path d="M280.9,271 h4.2 v3.4 h-4.2 z" stroke="#222" stroke-width="1.0" fill="none" />
<line x1="316" y1="247.5" x2="316" y2="277" stroke="#222" stroke-width="1.3" />
<path d="M318.4,259.4 h3.7 v6.1 h-3.7 z" stroke="#222" stroke-width="1.0" fill="none" />
<path d="M331.5,250 H351.2 V274.9 H331.5 Z" stroke="#222" stroke-width="1.5" fill="none" />
<rect x="331.5" y="250" width="19.7" height="4.6" fill="#666"/>
<rect x="331.5" y="270.3" width="19.7" height="4.6" fill="#666"/>
<path d="M342.8,254 V271 M346.3,254 V271 M349.1,254 V271" stroke="#444" stroke-width="0.9" fill="none" />
<line x1="331.5" y1="262.2" x2="358.3" y2="262.2" stroke="#222" stroke-width="0.9" />
<text x="0" y="0" transform="translate(62.17,212.50) scale(0.9479,0.8986)" font-family="Liberation Serif" font-weight="normal" font-size="20" fill="#1a1a1a" stroke="#1a1a1a" stroke-width="0.8" style="font-kerning:none" text-rendering="geometricPrecision">2</text>
<rect x="71.00" y="205.95" width="8.50" height="1.3" fill="#1a1a1a"/>
<text x="0" y="0" transform="translate(79.65,212.70) scale(0.6942,0.9087)" font-family="Liberation Serif" font-weight="normal" font-size="20" fill="#1a1a1a" stroke="#1a1a1a" stroke-width="0.8" style="font-kerning:none" text-rendering="geometricPrecision">T</text>
<text x="0" y="0" transform="translate(170.97,204.34) scale(0.5717,0.8658)" font-family="Liberation Serif" font-weight="bold" font-size="20" fill="#1a1a1a" stroke="#1a1a1a" stroke-width="0.4" style="font-kerning:none" text-rendering="geometricPrecision">V</text>
<text x="0" y="0" transform="translate(170.80,222.63) scale(0.5949,0.8960)" font-family="Liberation Serif" font-weight="bold" font-size="20" fill="#1a1a1a" stroke="#1a1a1a" stroke-width="0.4" style="font-kerning:none" text-rendering="geometricPrecision">U</text>
<text x="0" y="0" transform="translate(267.10,220.80) scale(0.9105,0.9213)" font-family="Liberation Serif" font-weight="normal" font-size="20" fill="#1a1a1a" stroke="#1a1a1a" stroke-width="0.8" style="font-kerning:none" text-rendering="geometricPrecision">2</text>
<rect x="276.00" y="213.85" width="8.20" height="1.3" fill="#1a1a1a"/>
<text x="0" y="0" transform="translate(284.87,220.52) scale(0.4432,0.9106)" font-family="Liberation Serif" font-weight="bold" font-size="20" fill="#1a1a1a" stroke="#1a1a1a" stroke-width="0.4" style="font-kerning:none" text-rendering="geometricPrecision">W</text>
<text x="0" y="0" transform="translate(125.78,301.70) scale(0.5725,0.8247)" font-family="Liberation Serif" font-weight="bold" font-size="20" fill="#1a1a1a" stroke="#1a1a1a" stroke-width="0.4" style="font-kerning:none" text-rendering="geometricPrecision">N</text>
<text x="0" y="0" transform="translate(205.83,307.40) scale(0.6950,0.8094)" font-family="Liberation Serif" font-weight="bold" font-size="20" fill="#1a1a1a" stroke="#1a1a1a" stroke-width="0.4" style="font-kerning:none" text-rendering="geometricPrecision">Z</text>
<text x="0" y="0" transform="translate(58.00,237.74) rotate(-90) scale(0.5890,0.9545)" font-family="Liberation Serif" font-weight="normal" font-size="20" fill="#1a1a1a" stroke="#1a1a1a" stroke-width="0.9" style="font-kerning:none" text-rendering="geometricPrecision">R</text>
<text x="0" y="0" transform="translate(20.00,266.68) rotate(-90) scale(0.8414,0.9545)" font-family="Liberation Serif" font-weight="normal" font-size="20" fill="#1a1a1a" stroke="#1a1a1a" stroke-width="0.9" style="font-kerning:none" text-rendering="geometricPrecision">P</text>
<text x="0" y="0" transform="translate(36.01,267.34) rotate(-90) scale(0.6626,0.8311)" font-family="Liberation Serif" font-weight="normal" font-size="20" fill="#1a1a1a" stroke="#1a1a1a" stroke-width="0.9" style="font-kerning:none" text-rendering="geometricPrecision">Q</text>
</svg></body></html>
